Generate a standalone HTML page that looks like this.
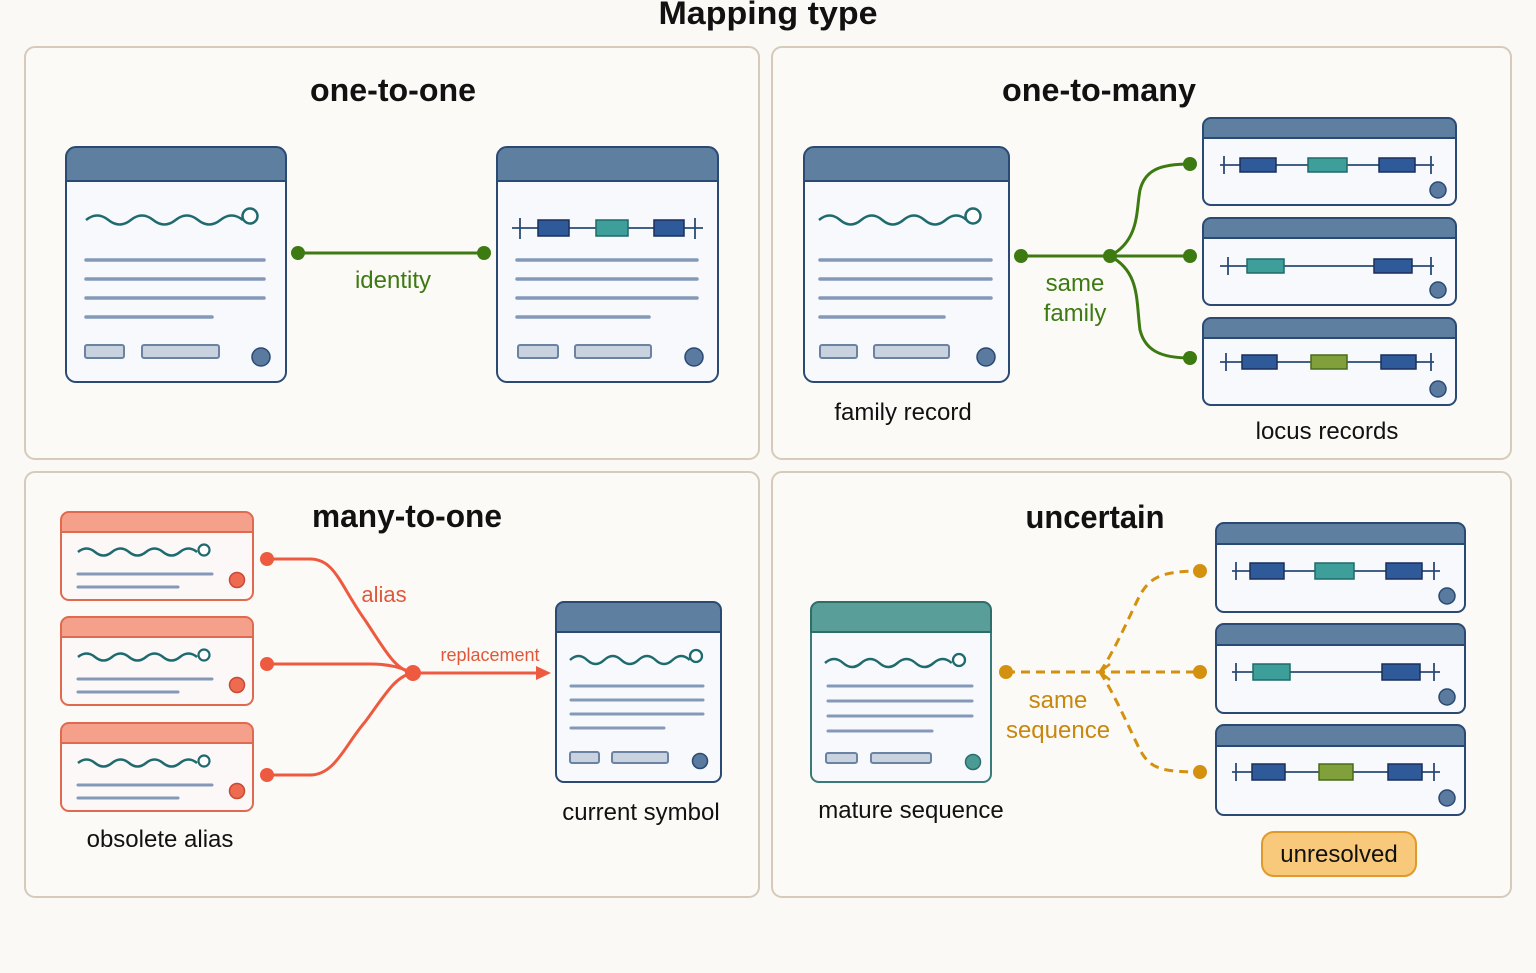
<!DOCTYPE html>
<html><head><meta charset="utf-8"><style>
html,body{margin:0;padding:0;background:#faf9f6;}
svg{display:block;font-family:"Liberation Sans",sans-serif;}
.t{font-weight:bold;font-size:32px;fill:#111;text-anchor:middle}
.l{font-size:24px;fill:#111;text-anchor:middle}
.ln{stroke:#8499b8;stroke-width:3.5;stroke-linecap:round}
.pill{fill:#c9d3e0;stroke:#6b82a3;stroke-width:2}
.wave{fill:none;stroke:#1e6a6e;stroke-width:2.5}
.cb{fill:#f7f9fc;stroke:#2b4a73;stroke-width:2}
.hd{fill:#5f7fa0;stroke:#2b4a73;stroke-width:2}
.gl{stroke:#2b4a73;stroke-width:1.8}
.bb{fill:#2f5a9a;stroke:#1a2f5a;stroke-width:1.5}
.bt{fill:#3e9e9a;stroke:#1f6a6a;stroke-width:1.5}
.bg{fill:#7fa03a;stroke:#4a6a1a;stroke-width:1.5}
.dt{fill:#5a7aa0;stroke:#2b4a73;stroke-width:1.5}
</style></head><body>
<svg width="1536" height="973" viewBox="0 0 1536 973">
<rect width="1536" height="973" fill="#faf9f6"/>
<text class="t" x="768" y="24" textLength="219" lengthAdjust="spacingAndGlyphs">Mapping type</text>
<g fill="#fbfaf7" stroke="#d6cbbb" stroke-width="2">
<rect x="25" y="47" width="734" height="412" rx="10"/>
<rect x="772" y="47" width="739" height="412" rx="10"/>
<rect x="25" y="472" width="734" height="425" rx="10"/>
<rect x="772" y="472" width="739" height="425" rx="10"/>
</g>
<text class="t" x="393" y="101" textLength="166" lengthAdjust="spacingAndGlyphs">one-to-one</text>
<text class="t" x="1099" y="101" textLength="194" lengthAdjust="spacingAndGlyphs">one-to-many</text>
<text class="t" x="407" y="527" textLength="190" lengthAdjust="spacingAndGlyphs">many-to-one</text>
<text class="t" x="1095" y="528" textLength="139" lengthAdjust="spacingAndGlyphs">uncertain</text>

<!-- TL card A -->
<path class="cb" d="M66,181 H286 V372 a10,10 0 0 1 -10,10 H76 a10,10 0 0 1 -10,-10 Z"/>
<path class="hd" d="M66,181 V157 a10,10 0 0 1 10,-10 H276 a10,10 0 0 1 10,10 V181 Z"/>
<path class="wave" d="M86,220 q11.2,-9 22.4,0 t22.4,0 t22.4,0 t22.4,0 t22.4,0 t22.4,0 t22.4,0"/>
<circle cx="250" cy="216" r="7.5" fill="#fff" stroke="#1e6a6e" stroke-width="2.5"/>
<line class="ln" x1="86" y1="260" x2="264" y2="260"/><line class="ln" x1="86" y1="279" x2="264" y2="279"/><line class="ln" x1="86" y1="298" x2="264" y2="298"/><line class="ln" x1="86" y1="317" x2="212" y2="317"/>
<rect class="pill" x="85" y="345" width="39" height="13" rx="2"/><rect class="pill" x="142" y="345" width="77" height="13" rx="2"/>
<circle class="dt" cx="261" cy="357" r="9"/>

<!-- TL card B -->
<path class="cb" d="M497,181 H718 V372 a10,10 0 0 1 -10,10 H507 a10,10 0 0 1 -10,-10 Z"/>
<path class="hd" d="M497,181 V157 a10,10 0 0 1 10,-10 H708 a10,10 0 0 1 10,10 V181 Z"/>
<line class="gl" x1="512" y1="228" x2="703" y2="228"/><line class="gl" x1="520" y1="218" x2="520" y2="239"/><line class="gl" x1="695" y1="218" x2="695" y2="239"/>
<rect class="bb" x="538" y="220" width="31" height="16"/><rect class="bt" x="596" y="220" width="32" height="16"/><rect class="bb" x="654" y="220" width="30" height="16"/>
<line class="ln" x1="517" y1="260" x2="697" y2="260"/><line class="ln" x1="517" y1="279" x2="697" y2="279"/><line class="ln" x1="517" y1="298" x2="697" y2="298"/><line class="ln" x1="517" y1="317" x2="649" y2="317"/>
<rect class="pill" x="518" y="345" width="40" height="13" rx="2"/><rect class="pill" x="575" y="345" width="76" height="13" rx="2"/>
<circle class="dt" cx="694" cy="357" r="9"/>
<line x1="298" y1="253" x2="484" y2="253" stroke="#3d7a12" stroke-width="3"/>
<circle cx="298" cy="253" r="7" fill="#3d7a12"/><circle cx="484" cy="253" r="7" fill="#3d7a12"/>
<text class="l" x="393" y="288" style="fill:#3d7a12">identity</text>

<!-- TR family card -->
<path class="cb" d="M804,181 H1009 V372 a10,10 0 0 1 -10,10 H814 a10,10 0 0 1 -10,-10 Z"/>
<path class="hd" d="M804,181 V157 a10,10 0 0 1 10,-10 H999 a10,10 0 0 1 10,10 V181 Z"/>
<path class="wave" d="M819,220 q10.6,-9 21.1,0 t21.1,0 t21.1,0 t21.1,0 t21.1,0 t21.1,0 t21.1,0"/>
<circle cx="973" cy="216" r="7.5" fill="#fff" stroke="#1e6a6e" stroke-width="2.5"/>
<line class="ln" x1="820" y1="260" x2="991" y2="260"/><line class="ln" x1="820" y1="279" x2="991" y2="279"/><line class="ln" x1="820" y1="298" x2="991" y2="298"/><line class="ln" x1="820" y1="317" x2="944" y2="317"/>
<rect class="pill" x="820" y="345" width="37" height="13" rx="2"/><rect class="pill" x="874" y="345" width="75" height="13" rx="2"/>
<circle class="dt" cx="986" cy="357" r="9"/>
<text class="l" x="903" y="420">family record</text>

<!-- TR locus cards -->
<g>
<path class="cb" d="M1203,138 H1456 V197 a8,8 0 0 1 -8,8 H1211 a8,8 0 0 1 -8,-8 Z"/>
<path class="hd" d="M1203,138 V126 a8,8 0 0 1 8,-8 H1448 a8,8 0 0 1 8,8 V138 Z"/>
<line class="gl" x1="1220" y1="165" x2="1434" y2="165"/><line class="gl" x1="1224" y1="156" x2="1224" y2="174"/><line class="gl" x1="1431" y1="156" x2="1431" y2="174"/>
<rect class="bb" x="1240" y="158" width="36" height="14"/><rect class="bt" x="1308" y="158" width="39" height="14"/><rect class="bb" x="1379" y="158" width="36" height="14"/>
<circle class="dt" cx="1438" cy="190" r="8"/>
<path class="cb" d="M1203,238 H1456 V297 a8,8 0 0 1 -8,8 H1211 a8,8 0 0 1 -8,-8 Z"/>
<path class="hd" d="M1203,238 V226 a8,8 0 0 1 8,-8 H1448 a8,8 0 0 1 8,8 V238 Z"/>
<line class="gl" x1="1220" y1="266" x2="1434" y2="266"/><line class="gl" x1="1228" y1="257" x2="1228" y2="275"/><line class="gl" x1="1431" y1="257" x2="1431" y2="275"/>
<rect class="bt" x="1247" y="259" width="37" height="14"/><rect class="bb" x="1374" y="259" width="38" height="14"/>
<circle class="dt" cx="1438" cy="290" r="8"/>
<path class="cb" d="M1203,338 H1456 V397 a8,8 0 0 1 -8,8 H1211 a8,8 0 0 1 -8,-8 Z"/>
<path class="hd" d="M1203,338 V326 a8,8 0 0 1 8,-8 H1448 a8,8 0 0 1 8,8 V338 Z"/>
<line class="gl" x1="1220" y1="362" x2="1434" y2="362"/><line class="gl" x1="1226" y1="353" x2="1226" y2="371"/><line class="gl" x1="1431" y1="353" x2="1431" y2="371"/>
<rect class="bb" x="1242" y="355" width="35" height="14"/><rect class="bg" x="1311" y="355" width="36" height="14"/><rect class="bb" x="1381" y="355" width="35" height="14"/>
<circle class="dt" cx="1438" cy="389" r="8"/>
</g>
<g stroke="#3d7a12" stroke-width="3" fill="none">
<line x1="1021" y1="256" x2="1190" y2="256"/>
<path d="M1110,256 C1140,240 1136,210 1140,190 C1145,170 1160,164 1190,164"/>
<path d="M1110,256 C1140,272 1136,300 1140,330 C1145,350 1160,358 1190,358"/>
</g>
<g fill="#3d7a12"><circle cx="1021" cy="256" r="7"/><circle cx="1110" cy="256" r="7"/><circle cx="1190" cy="164" r="7"/><circle cx="1190" cy="256" r="7"/><circle cx="1190" cy="358" r="7"/></g>
<text class="l" x="1075" y="291" style="fill:#3d7a12">same</text>
<text class="l" x="1075" y="321" style="fill:#3d7a12">family</text>
<text class="l" x="1327" y="439">locus records</text>

<!-- BL obsolete cards -->
<g id="rc">
<path d="M61,532 H253 V592 a8,8 0 0 1 -8,8 H69 a8,8 0 0 1 -8,-8 Z" fill="#fbf8f7" stroke="#e06a50" stroke-width="2"/>
<path d="M61,532 V520 a8,8 0 0 1 8,-8 H245 a8,8 0 0 1 8,8 V532 Z" fill="#f5a08a" stroke="#e06a50" stroke-width="2"/>
<path class="wave" d="M78,552 q8.5,-7 17,0 t17,0 t17,0 t17,0 t17,0 t17,0 t17,0"/>
<circle cx="204" cy="550" r="5.5" fill="#fff" stroke="#1e6a6e" stroke-width="2.2"/>
<line class="ln" x1="78" y1="574" x2="212" y2="574" style="stroke-width:3"/><line class="ln" x1="78" y1="587" x2="178" y2="587" style="stroke-width:3"/>
<circle cx="237" cy="580" r="7.5" fill="#ee6a50" stroke="#c94a35" stroke-width="1.5"/>
</g>
<use href="#rc" transform="translate(0,105)"/>
<use href="#rc" transform="translate(0,211)"/>
<g stroke="#ee5a40" stroke-width="3" fill="none">
<path d="M267,559 H310 C335,559 340,585 365,620 C385,650 395,670 413,673"/>
<path d="M267,664 H370 C395,664 405,670 413,673"/>
<path d="M267,775 H310 C335,775 345,745 365,722 C385,695 395,676 413,673"/>
<line x1="413" y1="673" x2="538" y2="673"/>
</g>
<path d="M536,666 L551,673 L536,680 Z" fill="#ee5a40"/>
<g fill="#ee5a40"><circle cx="267" cy="559" r="7"/><circle cx="267" cy="664" r="7"/><circle cx="267" cy="775" r="7"/><circle cx="413" cy="673" r="8"/></g>
<text class="l" x="384" y="602" style="fill:#e0583c;font-size:22px">alias</text>
<text x="490" y="661" style="fill:#e0583c;font-size:18px;text-anchor:middle">replacement</text>
<text class="l" x="160" y="847">obsolete alias</text>

<!-- current symbol -->
<path class="cb" d="M556,632 H721 V774 a8,8 0 0 1 -8,8 H564 a8,8 0 0 1 -8,-8 Z"/>
<path class="hd" d="M556,632 V610 a8,8 0 0 1 8,-8 H713 a8,8 0 0 1 8,8 V632 Z"/>
<path class="wave" d="M570,660 q8.6,-8 17.1,0 t17.1,0 t17.1,0 t17.1,0 t17.1,0 t17.1,0 t17.1,0"/>
<circle cx="696" cy="656" r="6" fill="#fff" stroke="#1e6a6e" stroke-width="2.3"/>
<line class="ln" x1="571" y1="686" x2="703" y2="686" style="stroke-width:3"/><line class="ln" x1="571" y1="700" x2="703" y2="700" style="stroke-width:3"/><line class="ln" x1="571" y1="714" x2="703" y2="714" style="stroke-width:3"/><line class="ln" x1="571" y1="728" x2="664" y2="728" style="stroke-width:3"/>
<rect class="pill" x="570" y="752" width="29" height="11" rx="2"/><rect class="pill" x="612" y="752" width="56" height="11" rx="2"/>
<circle class="dt" cx="700" cy="761" r="7.5"/>
<text class="l" x="641" y="820">current symbol</text>

<!-- mature sequence -->
<path class="cb" d="M811,632 H991 V774 a8,8 0 0 1 -8,8 H819 a8,8 0 0 1 -8,-8 Z" style="stroke:#3a7a78"/>
<path d="M811,632 V610 a8,8 0 0 1 8,-8 H983 a8,8 0 0 1 8,8 V632 Z" fill="#5a9e9a" stroke="#2e6e6a" stroke-width="2"/>
<path class="wave" d="M825,663 q9.1,-8 18.1,0 t18.1,0 t18.1,0 t18.1,0 t18.1,0 t18.1,0 t18.1,0"/>
<circle cx="959" cy="660" r="6" fill="#fff" stroke="#1e6a6e" stroke-width="2.3"/>
<line class="ln" x1="828" y1="686" x2="972" y2="686" style="stroke-width:3"/><line class="ln" x1="828" y1="701" x2="972" y2="701" style="stroke-width:3"/><line class="ln" x1="828" y1="716" x2="972" y2="716" style="stroke-width:3"/><line class="ln" x1="828" y1="731" x2="932" y2="731" style="stroke-width:3"/>
<rect class="pill" x="826" y="753" width="31" height="10" rx="2"/><rect class="pill" x="871" y="753" width="60" height="10" rx="2"/>
<circle cx="973" cy="762" r="7.5" fill="#4a9a96" stroke="#2e6e6a" stroke-width="1.5"/>
<text class="l" x="911" y="818">mature sequence</text>

<!-- BR right cards -->
<g>
<path class="cb" d="M1216,544 H1465 V604 a8,8 0 0 1 -8,8 H1224 a8,8 0 0 1 -8,-8 Z"/>
<path class="hd" d="M1216,544 V531 a8,8 0 0 1 8,-8 H1457 a8,8 0 0 1 8,8 V544 Z"/>
<line class="gl" x1="1232" y1="571" x2="1440" y2="571"/><line class="gl" x1="1236" y1="562" x2="1236" y2="580"/><line class="gl" x1="1434" y1="562" x2="1434" y2="580"/>
<rect class="bb" x="1250" y="563" width="34" height="16"/><rect class="bt" x="1315" y="563" width="39" height="16"/><rect class="bb" x="1386" y="563" width="36" height="16"/>
<circle class="dt" cx="1447" cy="596" r="8"/>
<path class="cb" d="M1216,645 H1465 V705 a8,8 0 0 1 -8,8 H1224 a8,8 0 0 1 -8,-8 Z"/>
<path class="hd" d="M1216,645 V632 a8,8 0 0 1 8,-8 H1457 a8,8 0 0 1 8,8 V645 Z"/>
<line class="gl" x1="1232" y1="672" x2="1440" y2="672"/><line class="gl" x1="1236" y1="663" x2="1236" y2="681"/><line class="gl" x1="1434" y1="663" x2="1434" y2="681"/>
<rect class="bt" x="1253" y="664" width="37" height="16"/><rect class="bb" x="1382" y="664" width="38" height="16"/>
<circle class="dt" cx="1447" cy="697" r="8"/>
<path class="cb" d="M1216,746 H1465 V807 a8,8 0 0 1 -8,8 H1224 a8,8 0 0 1 -8,-8 Z"/>
<path class="hd" d="M1216,746 V733 a8,8 0 0 1 8,-8 H1457 a8,8 0 0 1 8,8 V746 Z"/>
<line class="gl" x1="1232" y1="772" x2="1440" y2="772"/><line class="gl" x1="1236" y1="763" x2="1236" y2="781"/><line class="gl" x1="1434" y1="763" x2="1434" y2="781"/>
<rect class="bb" x="1252" y="764" width="33" height="16"/><rect class="bg" x="1319" y="764" width="34" height="16"/><rect class="bb" x="1388" y="764" width="34" height="16"/>
<circle class="dt" cx="1447" cy="798" r="8"/>
</g>
<g stroke="#d4900f" stroke-width="3" fill="none" stroke-dasharray="9,6">
<line x1="1006" y1="672" x2="1200" y2="672"/>
<path d="M1100,672 C1115,650 1130,615 1140,595 C1150,578 1160,571 1200,571"/>
<path d="M1100,672 C1115,695 1130,730 1140,750 C1150,768 1160,772 1200,772"/>
</g>
<path d="M1110,664 L1100,672 L1110,680" fill="none" stroke="#d4900f" stroke-width="2.5"/>
<g fill="#d4900f"><circle cx="1006" cy="672" r="7"/><circle cx="1200" cy="571" r="7"/><circle cx="1200" cy="672" r="7"/><circle cx="1200" cy="772" r="7"/></g>
<text class="l" x="1058" y="708" style="fill:#c8870e">same</text>
<text class="l" x="1058" y="738" style="fill:#c8870e">sequence</text>
<rect x="1262" y="832" width="154" height="44" rx="12" fill="#f8c97a" stroke="#e09a2a" stroke-width="2"/>
<text class="l" x="1339" y="862">unresolved</text>
</svg>
</body></html>
